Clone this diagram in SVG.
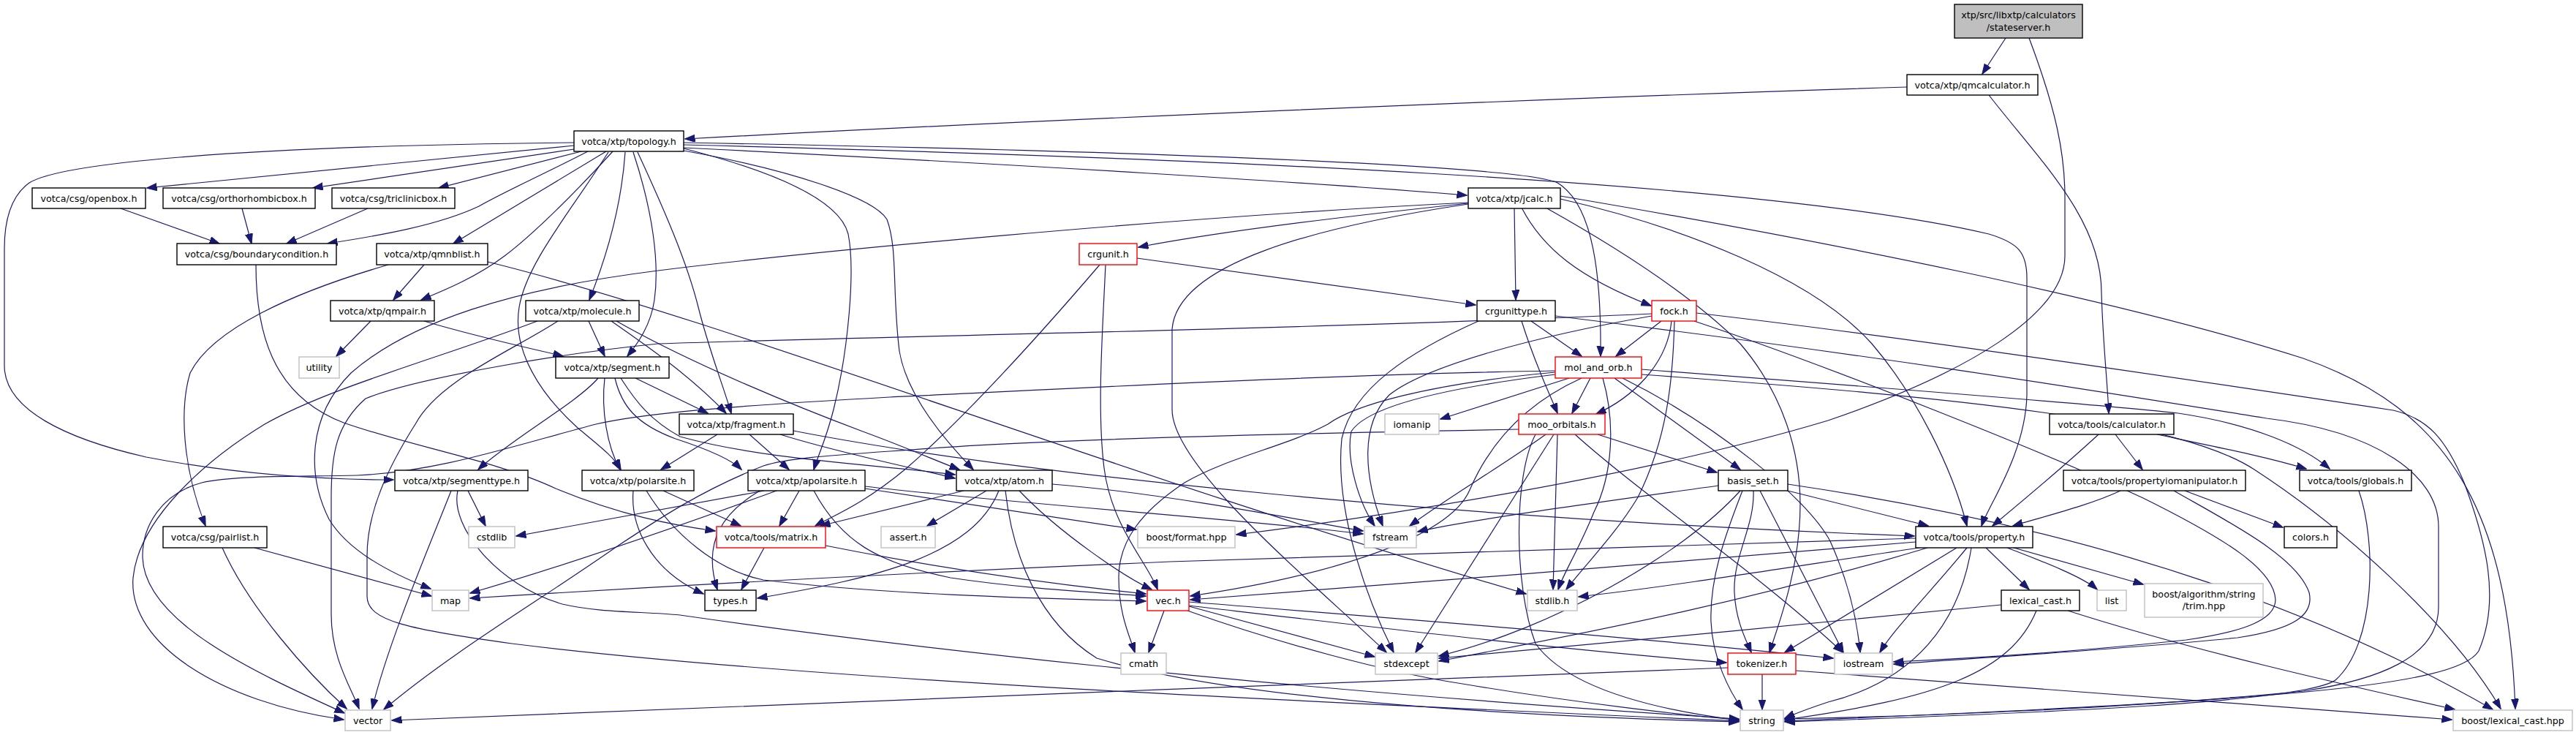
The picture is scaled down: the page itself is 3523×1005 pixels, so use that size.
<svg xmlns="http://www.w3.org/2000/svg" width="3523" height="1005" viewBox="0 0 3523 1005">
<style>
.e path{fill:none;stroke:#191970;stroke-width:1.2;marker-end:url(#a)}
.n rect{fill:#fff;stroke:#000;stroke-width:1.4}
.n.r rect{stroke:#ff0000}
.n.g rect{stroke:#bfbfbf}
.n.root rect{fill:#bfbfbf}
text{font-family:"DejaVu Sans","Liberation Sans",sans-serif;font-size:12.7px;text-anchor:middle;fill:#000}
</style>
<defs>
<marker id="a" markerWidth="15" markerHeight="11" refX="13.5" refY="5" orient="auto" markerUnits="userSpaceOnUse"><path d="M0,0 L14,5 L0,10 z" fill="#191970" stroke="#191970" stroke-width="1"/></marker>
</defs>
<rect width="3523" height="1005" fill="#fff"/>
<g id="edges" class="e">
<path d="M2743,52 L2711,101"/>
<path d="M2775,52 C2812,150 2824,210 2824,270 L2824,350 C2824,430 2690,510 2500,575 C2250,650 1900,705 1691,731"/>
<path d="M2608,119 C2100,135 1400,165 937,190"/>
<path d="M2720,130 C2790,220 2874,300 2874,400 C2876,470 2882,520 2884,565"/>
<path d="M785,199 L201,257"/>
<path d="M792,203 L428,257"/>
<path d="M799,206 L600,257"/>
<path d="M804,207 C740,240 690,262 655,282 C600,308 520,322 448,333"/>
<path d="M829,207 L620,333"/>
<path d="M838,207 C790,260 730,320 690,350 C650,380 605,398 576,410"/>
<path d="M785,195 C300,200 80,225 40,250 C15,268 6,300 6,340 L6,500 C6,560 90,600 200,625 C330,650 450,656 538,656"/>
<path d="M855,208 C850,280 830,350 806,410"/>
<path d="M866,208 C893,290 902,360 895,410 C890,445 872,470 858,487"/>
<path d="M872,208 C910,290 940,360 955,420 C970,480 990,530 1000,565"/>
<path d="M832,208 C780,290 720,360 710,420 C700,480 740,540 790,585 C820,610 840,625 849,642"/>
<path d="M935,203 C1080,240 1150,280 1160,320 C1170,370 1160,480 1140,560 C1130,600 1118,625 1113,642"/>
<path d="M935,206 C1080,232 1195,270 1213,300 C1228,340 1220,400 1230,480 C1240,540 1290,600 1331,642"/>
<path d="M935,202 C1400,225 1800,250 2006,267"/>
<path d="M935,195 C1500,205 2080,225 2130,250 C2180,280 2190,380 2189,487"/>
<path d="M935,198 C1600,215 2400,245 2720,320 C2760,332 2772,345 2772,380 L2772,540 C2770,620 2720,690 2710,719"/>
<path d="M165,285 L300,333"/>
<path d="M331,285 L344,333"/>
<path d="M503,285 L392,333"/>
<path d="M350,362 C350,450 370,540 470,578 C560,610 680,630 760,668 C850,705 920,718 978,726"/>
<path d="M580,362 L538,410"/>
<path d="M531,362 C400,400 290,450 260,510 C245,560 250,640 281,719"/>
<path d="M667,358 C1000,440 1500,640 2087,812"/>
<path d="M507,439 L460,487"/>
<path d="M580,439 C650,460 720,475 770,487"/>
<path d="M805,439 L827,487"/>
<path d="M836,439 C880,470 940,510 993,565"/>
<path d="M843,439 C950,500 1100,560 1180,590 C1240,612 1280,630 1312,642"/>
<path d="M735,439 C600,490 450,530 362,580 C280,630 190,710 182,790 C175,880 300,960 470,984"/>
<path d="M763,439 C700,480 600,520 568,580 C530,640 502,700 502,760 L502,815 C502,850 560,860 700,880 C1100,930 1800,960 2378,986"/>
<path d="M818,517 C790,550 700,600 654,642"/>
<path d="M827,517 C822,560 830,610 848,642"/>
<path d="M841,517 C850,555 870,580 924,600 C970,615 1000,628 1014,642"/>
<path d="M849,517 C870,550 890,575 930,597 C1050,630 1200,635 1306,649"/>
<path d="M869,517 L968,565"/>
<path d="M981,594 L904,642"/>
<path d="M1025,594 L1079,642"/>
<path d="M1067,594 C1150,620 1250,640 1306,654"/>
<path d="M1085,589 C1400,650 2000,710 2618,733"/>
<path d="M617,671 C590,740 530,880 509,969"/>
<path d="M640,671 L664,719"/>
<path d="M626,671 C615,720 680,800 769,826 C820,838 880,836 930,841 C1200,880 1700,940 2378,983"/>
<path d="M348,749 L590,815"/>
<path d="M304,749 C340,830 420,920 474,969"/>
<path d="M866,671 C862,720 890,780 962,812"/>
<path d="M884,671 C920,730 980,780 1044,793 C1200,812 1400,818 1567,822"/>
<path d="M907,671 L1013,719"/>
<path d="M1045,671 L706,733"/>
<path d="M1062,671 C900,730 750,780 643,811"/>
<path d="M1093,671 L1066,719"/>
<path d="M1039,671 C990,700 960,740 981,806"/>
<path d="M1113,671 C1150,740 1200,770 1300,790 C1400,805 1500,810 1567,815"/>
<path d="M1183,665 C1400,690 1700,710 1864,730"/>
<path d="M1183,668 L1554,724"/>
<path d="M1318,671 L1122,719"/>
<path d="M1349,671 L1268,719"/>
<path d="M1366,671 C1330,760 1200,790 1036,818"/>
<path d="M1375,671 C1385,760 1420,850 1500,900 C1700,960 2100,980 2378,987"/>
<path d="M1394,671 C1450,730 1540,790 1575,806"/>
<path d="M1439,662 C1600,675 1800,715 1864,726"/>
<path d="M1555,353 L2018,417"/>
<path d="M1504,362 C1420,460 1320,570 1240,640 C1180,690 1140,705 1115,719"/>
<path d="M1512,362 C1508,450 1500,560 1510,640 C1520,720 1570,770 1583,806"/>
<path d="M1045,749 L1014,806"/>
<path d="M1129,746 C1300,780 1450,800 1567,812"/>
<path d="M2008,278 C1800,300 1650,320 1557,338"/>
<path d="M2071,284 L2073,410"/>
<path d="M2081,284 C2110,340 2160,380 2258,418"/>
<path d="M2008,277 C1600,297 1100,345 900,370 C700,395 560,440 480,510 C420,570 420,650 450,710 C480,760 550,790 589,805"/>
<path d="M2008,279 C1800,310 1610,360 1603,450 L1603,560 C1603,640 1800,800 1896,892"/>
<path d="M2134,272 C2300,310 2480,380 2560,470 C2620,540 2670,640 2690,719"/>
<path d="M2134,268 C2500,330 2900,410 3150,490 C3350,560 3430,700 3440,969"/>
<path d="M2114,284 C2250,360 2330,420 2380,470 C2440,540 2462,620 2462,690 C2462,780 2430,860 2420,892"/>
<path d="M2094,439 L2163,487"/>
<path d="M2081,439 C2100,500 2120,540 2130,565"/>
<path d="M2022,439 C1930,480 1850,530 1835,600 C1825,700 1870,820 1906,892"/>
<path d="M2127,432 C2600,490 2900,540 3100,572 C3250,590 3335,650 3335,720 L3335,830 C3335,900 3250,930 3150,945 C2900,970 2600,980 2441,983"/>
<path d="M2320,428 C2600,460 3000,520 3273,561 C3320,572 3345,600 3370,660 C3400,740 3420,820 3390,890 C3360,940 3100,958 2441,986"/>
<path d="M2245,505 C2600,532 2900,556 2979,565 C3080,580 3150,610 3186,641"/>
<path d="M2245,512 C2700,545 2980,575 3083,642 C3200,718 3350,850 3420,969"/>
<path d="M2950,594 C3050,615 3100,625 3154,641"/>
<path d="M2893,594 L2930,642"/>
<path d="M2870,594 C2820,640 2760,690 2725,719"/>
<path d="M2900,671 C2860,690 2800,705 2753,719"/>
<path d="M2988,671 L3122,721"/>
<path d="M2973,671 C3050,715 3140,760 3158,810 C3165,840 3140,860 3060,872 C2900,888 2700,900 2590,908"/>
<path d="M2317,439 C2500,500 2800,620 2931,681 C3050,740 3110,780 3112,820 C3112,850 3060,865 2990,875 C2850,890 2700,900 2590,905"/>
<path d="M3226,671 C3250,740 3250,880 3194,930 C3150,960 2800,975 2441,987"/>
<path d="M2272,439 L2210,487"/>
<path d="M2286,439 C2280,500 2230,545 2183,566"/>
<path d="M2290,439 C2288,520 2280,600 2240,680 C2210,730 2170,770 2142,806"/>
<path d="M2259,429 C1800,450 1200,460 900,470 C750,485 560,520 500,545 C460,580 453,620 453,680 L453,840 C453,900 480,940 491,969"/>
<path d="M2259,432 C2100,460 1950,500 1900,540 C1860,580 1865,650 1891,719"/>
<path d="M2175,517 L2150,565"/>
<path d="M2208,517 L2380,642"/>
<path d="M2146,517 L1970,573"/>
<path d="M2163,517 C2090,550 2040,600 2010,670 C1980,740 1800,790 1628,815"/>
<path d="M2192,517 C2210,580 2205,650 2180,700 C2160,750 2140,780 2131,806"/>
<path d="M2219,517 C2346,580 2471,680 2503,740 C2530,800 2540,850 2544,892"/>
<path d="M2127,507 C1800,512 1400,535 1217,543 C1000,555 880,565 815,580 C700,610 600,645 488,650 C400,652 320,650 276,660 C220,675 195,720 195,760 C195,850 350,920 471,975"/>
<path d="M2127,512 C1980,530 1870,555 1848,590 C1840,630 1860,690 1880,719"/>
<path d="M2127,509 C1950,525 1850,555 1816,580 C1760,610 1680,625 1620,660 C1560,700 1530,740 1530,790 C1530,840 1545,870 1552,892"/>
<path d="M2185,594 L2348,646"/>
<path d="M2114,594 C2050,640 1980,680 1928,719"/>
<path d="M2125,594 L1936,892"/>
<path d="M2130,594 L2124,806"/>
<path d="M2154,594 C2250,680 2400,780 2520,892"/>
<path d="M2077,587 C1800,592 1450,600 1274,613 C1150,622 1080,625 1044,637 C960,670 900,710 844,747 C740,820 620,890 525,970"/>
<path d="M2100,594 C2070,650 2070,800 2100,880 C2150,950 2300,975 2378,985"/>
<path d="M2445,671 L2637,719"/>
<path d="M2398,671 C2400,720 2370,760 2372,810 C2374,850 2388,875 2395,892"/>
<path d="M2383,671 C2360,730 2338,790 2340,850 C2342,900 2365,945 2383,970"/>
<path d="M2407,671 L2521,892"/>
<path d="M2350,664 C2200,685 2000,712 1939,727"/>
<path d="M2380,671 C2300,760 2120,860 1968,897"/>
<path d="M2445,662 C2900,729 3200,850 3409,970"/>
<path d="M2620,736 C2300,745 1900,760 1600,768 C1200,785 900,802 643,818"/>
<path d="M2620,741 C2400,760 1900,800 1628,820"/>
<path d="M2625,749 C2450,775 2300,800 2159,816"/>
<path d="M2636,749 C2400,820 2200,860 1968,904"/>
<path d="M2676,749 L2441,892"/>
<path d="M2690,749 C2640,810 2590,860 2571,892"/>
<path d="M2696,749 C2680,850 2620,930 2500,960 C2470,970 2450,978 2441,982"/>
<path d="M2716,749 L2775,806"/>
<path d="M2745,749 C2800,770 2850,790 2868,806"/>
<path d="M2754,749 L2931,799"/>
<path d="M2785,835 C2750,920 2650,955 2441,984"/>
<path d="M2828,835 C3000,890 3200,935 3357,970"/>
<path d="M2737,827 C2500,850 2200,880 1968,900"/>
<path d="M2410,922 L2410,970"/>
<path d="M2363,913 C1800,935 1000,965 536,985"/>
<path d="M2456,917 C2800,945 3100,965 3353,984"/>
<path d="M1592,835 L1571,892"/>
<path d="M1626,829 L1880,898"/>
<path d="M1626,823 C1900,845 2200,868 2507,900"/>
<path d="M1626,828 C1900,860 2150,890 2361,906"/>
<path d="M1624,835 C1750,880 1900,920 2000,935 C2150,960 2300,978 2378,984"/>
</g>
<g id="n_stateserver" class="n root"><rect x="2673" y="6" width="175" height="46"/><text x="2760.5" y="24.5">xtp/src/libxtp/calculators</text><text x="2760.5" y="41.5">/stateserver.h</text></g>
<g id="n_qmcalculator" class="n"><rect x="2608" y="102" width="179" height="28"/><text x="2697.5" y="120.5">votca/xtp/qmcalculator.h</text></g>
<g id="n_topology" class="n"><rect x="785" y="179" width="150" height="28"/><text x="860" y="197.5">votca/xtp/topology.h</text></g>
<g id="n_openbox" class="n"><rect x="44" y="257" width="155" height="28"/><text x="121.5" y="275.5">votca/csg/openbox.h</text></g>
<g id="n_orthorhombicbox" class="n"><rect x="223" y="257" width="208" height="28"/><text x="327" y="275.5">votca/csg/orthorhombicbox.h</text></g>
<g id="n_triclinicbox" class="n"><rect x="454" y="257" width="168" height="28"/><text x="538" y="275.5">votca/csg/triclinicbox.h</text></g>
<g id="n_jcalc" class="n"><rect x="2008" y="257" width="126" height="28"/><text x="2071" y="275.5">votca/xtp/jcalc.h</text></g>
<g id="n_boundarycondition" class="n"><rect x="242" y="333" width="218" height="29"/><text x="351" y="352">votca/csg/boundarycondition.h</text></g>
<g id="n_qmnblist" class="n"><rect x="515" y="333" width="152" height="29"/><text x="591" y="352">votca/xtp/qmnblist.h</text></g>
<g id="n_crgunit" class="n r"><rect x="1476" y="333" width="79" height="29"/><text x="1515.5" y="352">crgunit.h</text></g>
<g id="n_qmpair" class="n"><rect x="452" y="411" width="142" height="28"/><text x="523" y="429.5">votca/xtp/qmpair.h</text></g>
<g id="n_molecule" class="n"><rect x="719" y="411" width="155" height="28"/><text x="796.5" y="429.5">votca/xtp/molecule.h</text></g>
<g id="n_crgunittype" class="n"><rect x="2020" y="411" width="107" height="28"/><text x="2073.5" y="429.5">crgunittype.h</text></g>
<g id="n_fock" class="n r"><rect x="2259" y="411" width="61" height="28"/><text x="2289.5" y="429.5">fock.h</text></g>
<g id="n_utility" class="n g"><rect x="409" y="488" width="55" height="29"/><text x="436.5" y="507">utility</text></g>
<g id="n_segment" class="n"><rect x="760" y="488" width="155" height="29"/><text x="837.5" y="507">votca/xtp/segment.h</text></g>
<g id="n_mol_and_orb" class="n r"><rect x="2127" y="488" width="118" height="29"/><text x="2186" y="507">mol_and_orb.h</text></g>
<g id="n_fragment" class="n"><rect x="929" y="566" width="156" height="28"/><text x="1007" y="584.5">votca/xtp/fragment.h</text></g>
<g id="n_iomanip" class="n g"><rect x="1894" y="566" width="74" height="28"/><text x="1931" y="584.5">iomanip</text></g>
<g id="n_moo_orbitals" class="n r"><rect x="2077" y="566" width="118" height="28"/><text x="2136" y="584.5">moo_orbitals.h</text></g>
<g id="n_calculator" class="n"><rect x="2803" y="566" width="170" height="28"/><text x="2888" y="584.5">votca/tools/calculator.h</text></g>
<g id="n_segmenttype" class="n"><rect x="540" y="643" width="182" height="28"/><text x="631" y="661.5">votca/xtp/segmenttype.h</text></g>
<g id="n_polarsite" class="n"><rect x="796" y="643" width="153" height="28"/><text x="872.5" y="661.5">votca/xtp/polarsite.h</text></g>
<g id="n_apolarsite" class="n"><rect x="1023" y="643" width="160" height="28"/><text x="1103" y="661.5">votca/xtp/apolarsite.h</text></g>
<g id="n_atom" class="n"><rect x="1308" y="643" width="131" height="28"/><text x="1373.5" y="661.5">votca/xtp/atom.h</text></g>
<g id="n_basis_set" class="n"><rect x="2350" y="643" width="95" height="28"/><text x="2397.5" y="661.5">basis_set.h</text></g>
<g id="n_propertyiomanipulator" class="n"><rect x="2822" y="643" width="249" height="28"/><text x="2946.5" y="661.5">votca/tools/propertyiomanipulator.h</text></g>
<g id="n_globals" class="n"><rect x="3145" y="643" width="153" height="28"/><text x="3221.5" y="661.5">votca/tools/globals.h</text></g>
<g id="n_pairlist" class="n"><rect x="223" y="720" width="142" height="29"/><text x="294" y="739">votca/csg/pairlist.h</text></g>
<g id="n_cstdlib" class="n g"><rect x="641" y="720" width="63" height="29"/><text x="672.5" y="739">cstdlib</text></g>
<g id="n_matrix" class="n r"><rect x="980" y="720" width="149" height="29"/><text x="1054.5" y="739">votca/tools/matrix.h</text></g>
<g id="n_assert" class="n g"><rect x="1205" y="720" width="74" height="29"/><text x="1242" y="739">assert.h</text></g>
<g id="n_boost_format" class="n g"><rect x="1556" y="720" width="133" height="29"/><text x="1622.5" y="739">boost/format.hpp</text></g>
<g id="n_fstream" class="n g"><rect x="1866" y="720" width="71" height="29"/><text x="1901.5" y="739">fstream</text></g>
<g id="n_property" class="n"><rect x="2620" y="720" width="160" height="29"/><text x="2700" y="739">votca/tools/property.h</text></g>
<g id="n_colors" class="n"><rect x="3124" y="720" width="72" height="29"/><text x="3160" y="739">colors.h</text></g>
<g id="n_map" class="n g"><rect x="591" y="807" width="50" height="28"/><text x="616" y="825.5">map</text></g>
<g id="n_types" class="n"><rect x="964" y="807" width="70" height="28"/><text x="999" y="825.5">types.h</text></g>
<g id="n_vec" class="n r"><rect x="1569" y="807" width="57" height="28"/><text x="1597.5" y="825.5">vec.h</text></g>
<g id="n_stdlib" class="n g"><rect x="2089" y="807" width="68" height="28"/><text x="2123" y="825.5">stdlib.h</text></g>
<g id="n_lexical_cast" class="n"><rect x="2737" y="807" width="107" height="28"/><text x="2790.5" y="825.5">lexical_cast.h</text></g>
<g id="n_list" class="n g"><rect x="2868" y="807" width="40" height="28"/><text x="2888" y="825.5">list</text></g>
<g id="n_trim" class="n g"><rect x="2933" y="798" width="162" height="46"/><text x="3014" y="816.5">boost/algorithm/string</text><text x="3014" y="833">/trim.hpp</text></g>
<g id="n_cmath" class="n g"><rect x="1533" y="893" width="62" height="29"/><text x="1564" y="912">cmath</text></g>
<g id="n_stdexcept" class="n g"><rect x="1881" y="893" width="85" height="29"/><text x="1923.5" y="912">stdexcept</text></g>
<g id="n_tokenizer" class="n r"><rect x="2363" y="893" width="93" height="29"/><text x="2409.5" y="912">tokenizer.h</text></g>
<g id="n_iostream" class="n g"><rect x="2509" y="893" width="79" height="29"/><text x="2548.5" y="912">iostream</text></g>
<g id="n_vector" class="n g"><rect x="472" y="971" width="62" height="28"/><text x="503" y="989.5">vector</text></g>
<g id="n_string" class="n g"><rect x="2380" y="971" width="59" height="28"/><text x="2409.5" y="989.5">string</text></g>
<g id="n_boost_lexical_cast" class="n g"><rect x="3355" y="971" width="163" height="28"/><text x="3436.5" y="989.5">boost/lexical_cast.hpp</text></g>
</svg>
